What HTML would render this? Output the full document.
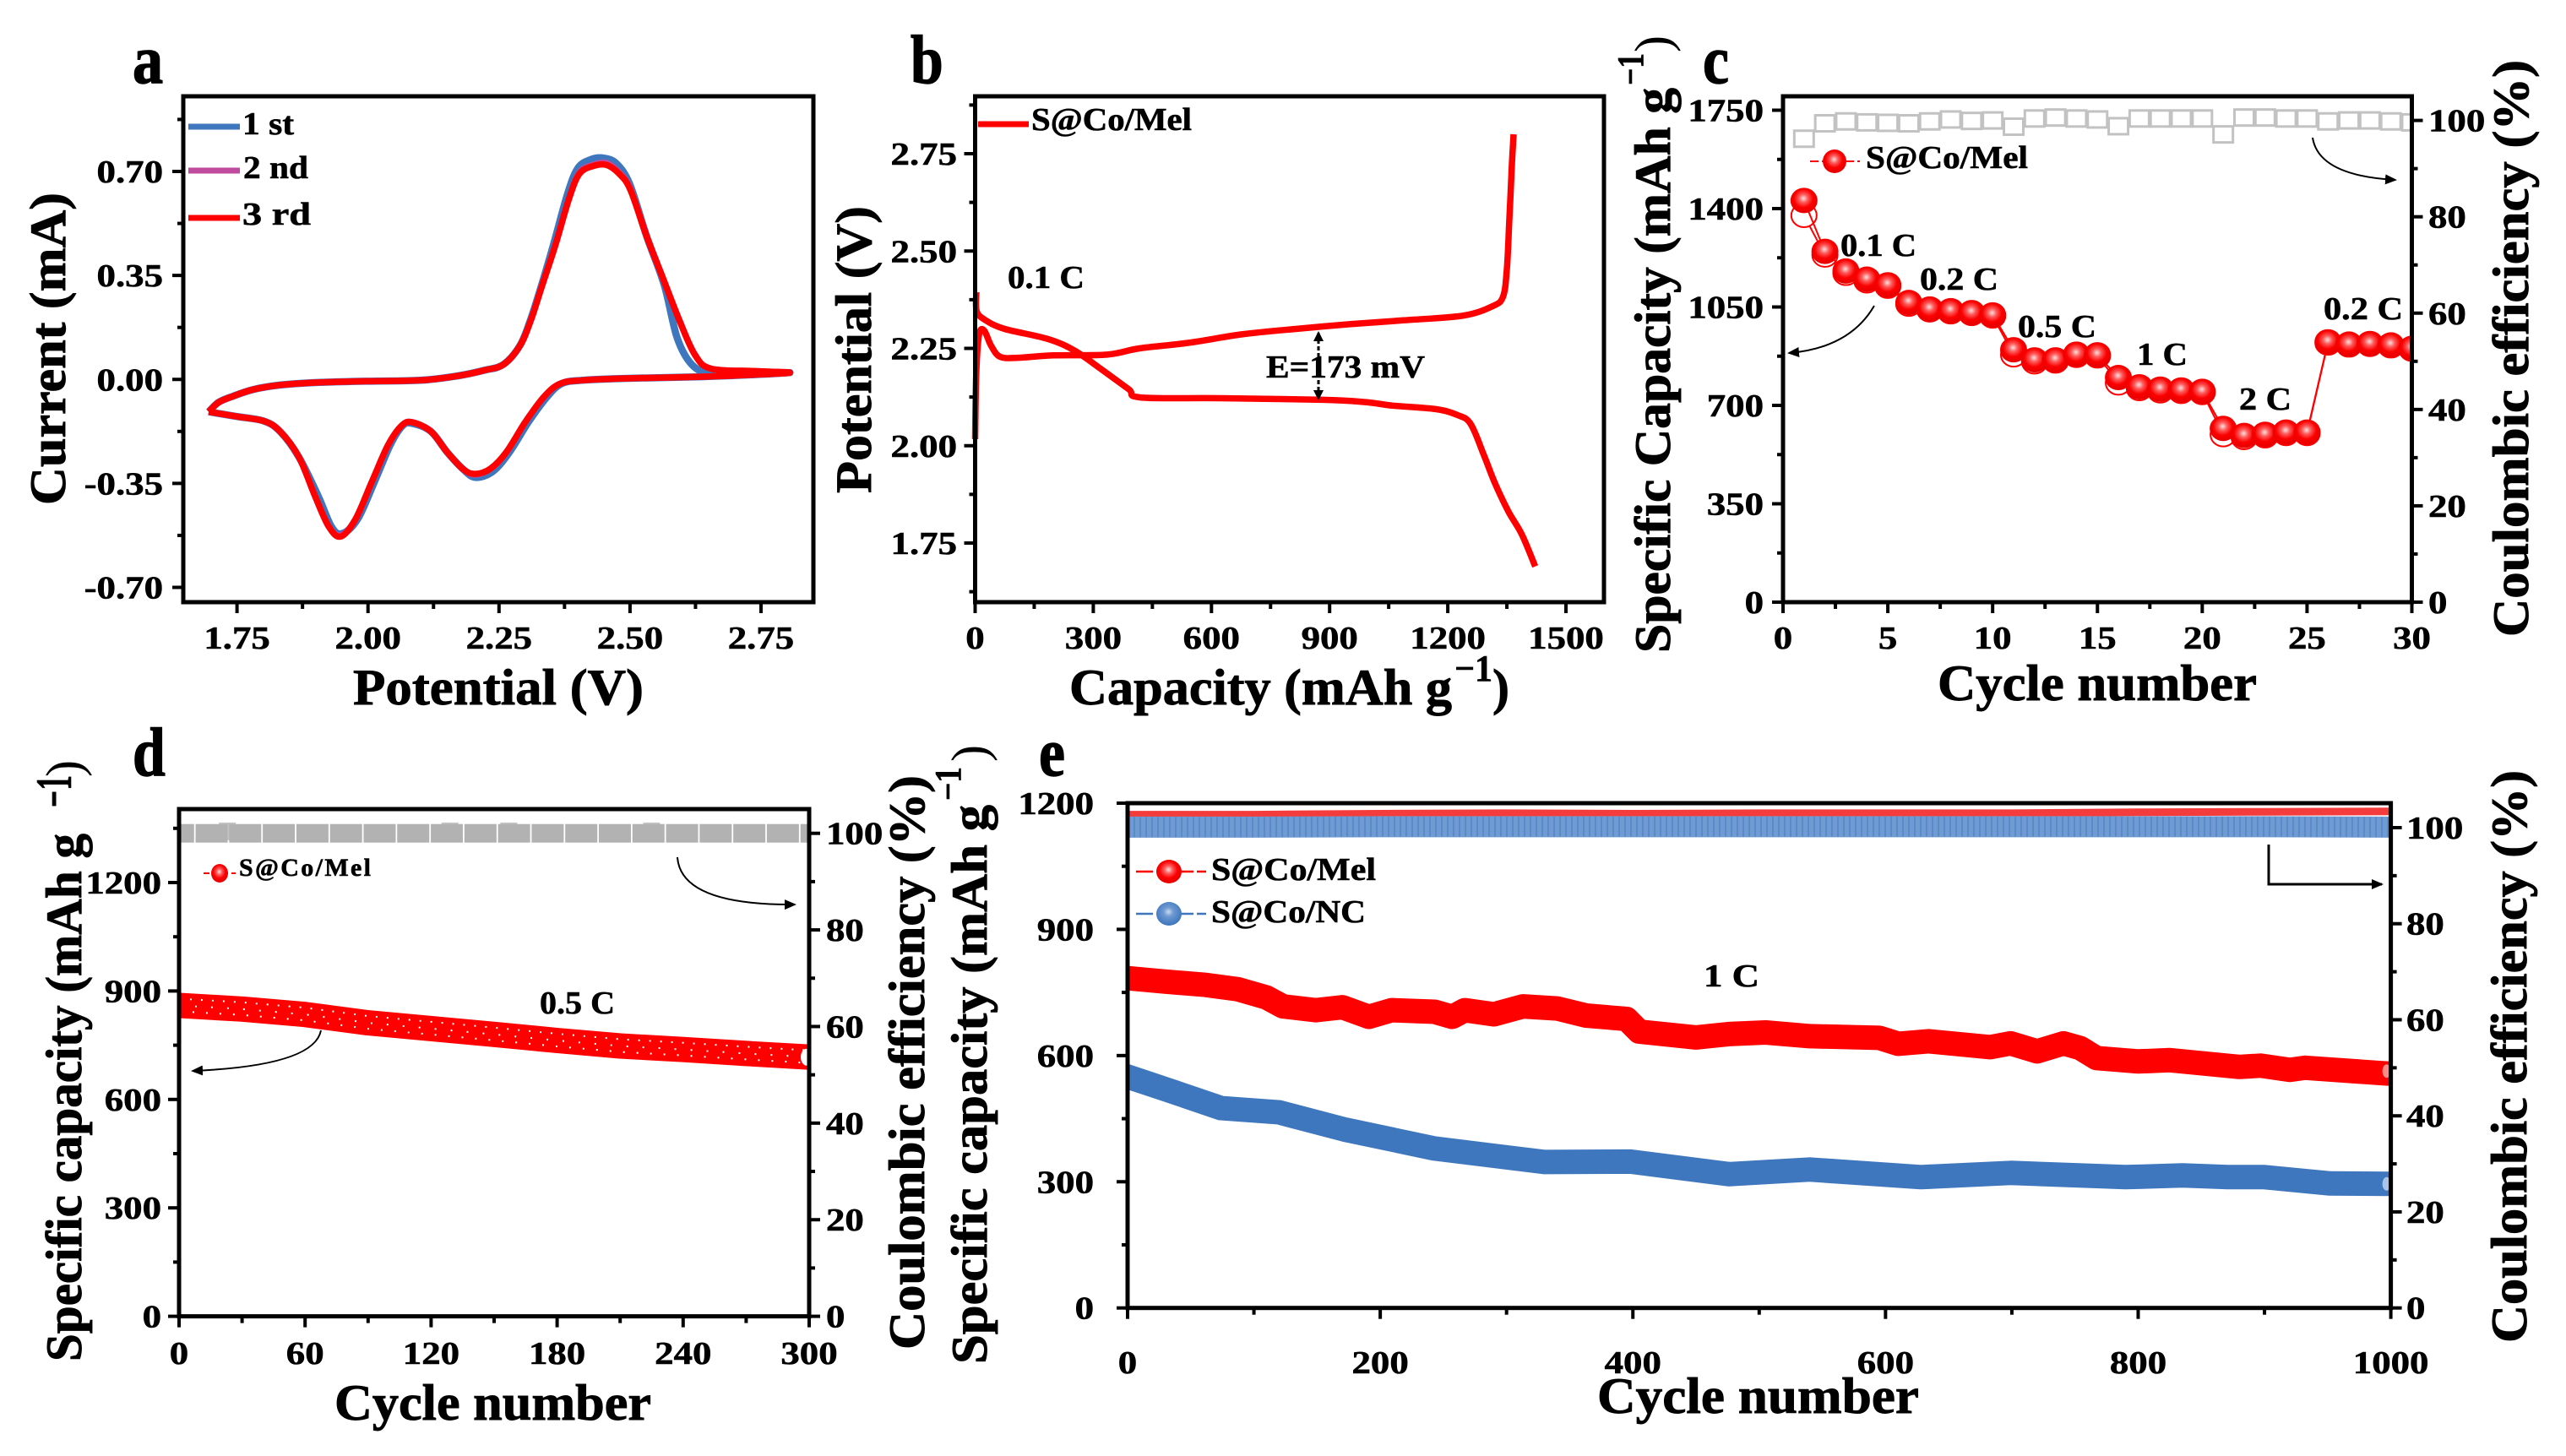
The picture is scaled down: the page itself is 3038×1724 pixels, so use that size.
<!DOCTYPE html>
<html lang="en">
<head>
<meta charset="utf-8">
<title>Battery electrochemical performance figure</title>
<style>
html,body{margin:0;padding:0;background:#fff;width:3038px;height:1724px;overflow:hidden}
svg{display:block}
text{font-family:"Liberation Serif",serif;font-weight:bold;fill:#000;stroke:#000;stroke-width:.6px}
.t{font-size:60px;stroke-width:.9px}
.n{font-size:38px}
.p{font-size:82px;stroke-width:1.4px}
</style>
</head>
<body>
<svg id="fig" xmlns="http://www.w3.org/2000/svg" width="3038" height="1724" viewBox="0 0 3038 1724">
<defs>
<radialGradient id="ball" cx="48%" cy="42%" r="55%"><stop offset="0" stop-color="#ffe0e0"/><stop offset=".3" stop-color="#ff5a5a"/><stop offset=".65" stop-color="#fb0000"/><stop offset="1" stop-color="#e80000"/></radialGradient>
<radialGradient id="ballB" cx="48%" cy="42%" r="55%"><stop offset="0" stop-color="#c8dcf2"/><stop offset=".35" stop-color="#6f9ad2"/><stop offset="1" stop-color="#3f77be"/></radialGradient>
<marker id="ahb" markerWidth="14" markerHeight="12" refX="12" refY="6" orient="auto" markerUnits="userSpaceOnUse" viewBox="0 0 14 12"><path d="M0 0L14 6L0 12z" fill="#000"/></marker>
<marker id="ahv" markerWidth="12" markerHeight="12" refX="10" refY="6" orient="auto-start-reverse" markerUnits="userSpaceOnUse" viewBox="0 0 12 12"><path d="M0 0L12 6L0 12z" fill="#000"/></marker>
<clipPath id="clipC"><rect x="2111" y="114" width="745" height="599"/></clipPath>
<clipPath id="clipD"><rect x="212" y="958" width="746" height="601"/></clipPath>
<clipPath id="clipE"><rect x="1335" y="951" width="1496" height="598"/></clipPath>
</defs>

<g id="marks"></g>
<g id="axes"></g>

<!-- panel letters -->
<text class="p" transform="translate(157,98) scale(.88,1)">a</text>
<text class="p" transform="translate(1078,98) scale(.85,1)">b</text>
<text class="p" transform="translate(2016,98) scale(.85,1)">c</text>
<text class="p" transform="translate(157,918) scale(.85,1)">d</text>
<text class="p" transform="translate(1230,918) scale(.85,1)">e</text>

<!-- panel a text -->
<text class="t" x="418" y="834" textLength="344" lengthAdjust="spacingAndGlyphs">Potential (V)</text>
<text class="t" transform="translate(77,598) rotate(-90)" textLength="370" lengthAdjust="spacingAndGlyphs">Current (mA)</text>
<g>
<line x1="223" x2="284" y1="150" y2="150" stroke="#3f77be" stroke-width="7"/>
<line x1="223" x2="284" y1="202" y2="202" stroke="#c04a9e" stroke-width="7"/>
<line x1="223" x2="284" y1="258" y2="258" stroke="#fe0000" stroke-width="7"/>
<text class="n" x="287" y="159" textLength="61" lengthAdjust="spacingAndGlyphs">1 st</text>
<text class="n" x="288" y="211" textLength="77" lengthAdjust="spacingAndGlyphs">2 nd</text>
<text class="n" x="287" y="266" textLength="81" lengthAdjust="spacingAndGlyphs">3 rd</text>
</g>

<!-- panel b text -->
<text class="t" x="1266" y="834" textLength="453" lengthAdjust="spacingAndGlyphs">Capacity (mAh g</text>
<text x="1722" y="806" font-size="44" textLength="45" lengthAdjust="spacingAndGlyphs">−1</text>
<text class="t" x="1767" y="834">)</text>
<text class="t" transform="translate(1031,584) rotate(-90)" textLength="340" lengthAdjust="spacingAndGlyphs">Potential (V)</text>
<line x1="1158" x2="1218" y1="147" y2="147" stroke="#fe0000" stroke-width="7"/>
<text class="n" x="1221" y="154" textLength="190" lengthAdjust="spacingAndGlyphs">S@Co/Mel</text>
<text class="n" x="1193" y="341" textLength="91" lengthAdjust="spacingAndGlyphs">0.1 C</text>
<line x1="1561" x2="1561" y1="394" y2="472" stroke="#000" stroke-width="3" stroke-dasharray="5 3" marker-start="url(#ahv)" marker-end="url(#ahv)"/>
<text class="n" x="1499" y="447" textLength="188" lengthAdjust="spacingAndGlyphs">E=173 mV</text>

<!-- panel c text -->
<text class="t" x="2294" y="829" textLength="378" lengthAdjust="spacingAndGlyphs">Cycle number</text>
<text class="t" transform="translate(1977,773) rotate(-90)" textLength="669" lengthAdjust="spacingAndGlyphs">Specific Capacity (mAh g</text>
<text transform="translate(1945,101) rotate(-90)" font-size="44" textLength="38" lengthAdjust="spacingAndGlyphs">−1</text>
<text class="t" transform="translate(1977,62) rotate(-90)" style="font-weight:normal;stroke-width:0">)</text>
<text class="t" transform="translate(2993,754) rotate(-90)" textLength="683" lengthAdjust="spacingAndGlyphs">Coulombic efficiency (%)</text>
<text class="n" x="2209" y="199" textLength="192" lengthAdjust="spacingAndGlyphs">S@Co/Mel</text>
<text class="n" x="2179" y="303" textLength="90" lengthAdjust="spacingAndGlyphs">0.1 C</text>
<text class="n" x="2273" y="343" textLength="93" lengthAdjust="spacingAndGlyphs">0.2 C</text>
<text class="n" x="2389" y="399" textLength="93" lengthAdjust="spacingAndGlyphs">0.5 C</text>
<text class="n" x="2530" y="432" textLength="60" lengthAdjust="spacingAndGlyphs">1 C</text>
<text class="n" x="2651" y="485" textLength="62" lengthAdjust="spacingAndGlyphs">2 C</text>
<text class="n" x="2751" y="378" textLength="94" lengthAdjust="spacingAndGlyphs">0.2 C</text>
<path d="M2219 362Q2190 412 2118 418" fill="none" stroke="#000" stroke-width="2" marker-end="url(#ahb)"/>
<path d="M2738 163Q2745 208 2836 213" fill="none" stroke="#000" stroke-width="2" marker-end="url(#ahb)"/>

<!-- panel d text -->
<text class="t" x="396" y="1681" textLength="375" lengthAdjust="spacingAndGlyphs">Cycle number</text>
<text class="t" transform="translate(96,1612) rotate(-90)" textLength="625" lengthAdjust="spacingAndGlyphs">Specific capacity (mAh g</text>
<text transform="translate(84,956) rotate(-90)" font-size="60" textLength="38" lengthAdjust="spacingAndGlyphs">−1</text>
<text class="t" transform="translate(96,920) rotate(-90)" style="font-weight:normal;stroke-width:0">)</text>
<text class="t" transform="translate(1094,1598) rotate(-90)" textLength="680" lengthAdjust="spacingAndGlyphs">Coulombic efficiency (%)</text>
<text x="283" y="1037" font-size="30" textLength="156" lengthAdjust="spacing">S@Co/Mel</text>
<text class="n" x="639" y="1200" textLength="89" lengthAdjust="spacingAndGlyphs">0.5 C</text>
<path d="M380 1220Q372 1262 228 1268" fill="none" stroke="#000" stroke-width="2" marker-end="url(#ahb)"/>
<path d="M802 1015Q806 1072 941 1071" fill="none" stroke="#000" stroke-width="2" marker-end="url(#ahb)"/>

<!-- panel e text -->
<text class="t" x="1891" y="1673" textLength="381" lengthAdjust="spacingAndGlyphs">Cycle number</text>
<text class="t" transform="translate(1168,1615) rotate(-90)" textLength="662" lengthAdjust="spacingAndGlyphs">Specific capacity (mAh g</text>
<text transform="translate(1137,948) rotate(-90)" font-size="44" textLength="40" lengthAdjust="spacingAndGlyphs">−1</text>
<text class="t" transform="translate(1168,902) rotate(-90)" style="font-weight:normal;stroke-width:0">)</text>
<text class="t" transform="translate(2991,1590) rotate(-90)" textLength="678" lengthAdjust="spacingAndGlyphs">Coulombic efficiency (%)</text>
<text class="n" x="1434" y="1042" textLength="195" lengthAdjust="spacingAndGlyphs">S@Co/Mel</text>
<text class="n" x="1434" y="1092" textLength="183" lengthAdjust="spacingAndGlyphs">S@Co/NC</text>
<text class="n" x="2017" y="1168" textLength="66" lengthAdjust="spacingAndGlyphs">1 C</text>
<path d="M2686 1000V1047H2820" fill="none" stroke="#000" stroke-width="3" marker-end="url(#ahb)"/>
</svg>

<script>
// ---- panel a: cyclic voltammetry ----
const cv1V=[1.696,1.75,1.801,1.832,1.868,1.905,1.93,1.95,1.98,2.012,2.042,2.066,2.084,2.12,2.151,2.182,2.205,2.238,2.27,2.306,2.342,2.37,2.408,2.48,2.635,2.738,2.805,2.738,2.655,2.618,2.59,2.565,2.532,2.5,2.475,2.45,2.425,2.4,2.38,2.355,2.33,2.31,2.29,2.259,2.223,2.172,2.1,1.997,1.894,1.832,1.781,1.74,1.714,1.696];
const cv1I=[-.109,-.125,-.14,-.175,-.261,-.393,-.495,-.519,-.471,-.346,-.222,-.156,-.148,-.175,-.245,-.303,-.33,-.31,-.245,-.144,-.058,-.014,-.003,.003,.009,.016,.023,.018,.02,.05,.14,.32,.48,.655,.725,.745,.74,.71,.62,.46,.31,.2,.114,.051,.031,.012,-.003,-.006,-.011,-.019,-.034,-.058,-.078,-.109];
const cv2V=[1.696,1.75,1.801,1.832,1.868,1.899,1.925,1.948,1.976,2.007,2.038,2.064,2.084,2.12,2.151,2.182,2.205,2.234,2.264,2.3,2.336,2.367,2.408,2.48,2.635,2.738,2.805,2.738,2.655,2.624,2.594,2.563,2.532,2.501,2.48,2.455,2.429,2.403,2.383,2.357,2.331,2.311,2.29,2.259,2.223,2.172,2.1,1.997,1.894,1.832,1.781,1.74,1.714,1.696];
const cv2I=[-.109,-.125,-.14,-.175,-.261,-.393,-.495,-.525,-.471,-.346,-.222,-.156,-.144,-.175,-.245,-.303,-.32,-.3,-.245,-.144,-.058,-.014,-.003,.003,.009,.016,.023,.028,.036,.083,.2,.34,.48,.64,.695,.728,.722,.695,.605,.449,.309,.2,.114,.051,.031,.012,-.003,-.006,-.011,-.019,-.034,-.058,-.078,-.109];
const cv3V=[1.696,1.75,1.801,1.832,1.868,1.899,1.925,1.948,1.976,2.007,2.038,2.064,2.084,2.12,2.151,2.182,2.205,2.234,2.264,2.3,2.336,2.367,2.408,2.48,2.635,2.738,2.805,2.738,2.655,2.624,2.594,2.563,2.532,2.501,2.48,2.455,2.429,2.403,2.383,2.357,2.331,2.311,2.29,2.259,2.223,2.172,2.1,1.997,1.894,1.832,1.781,1.74,1.714,1.696];
const cv3I=[-.109,-.125,-.14,-.175,-.261,-.393,-.495,-.529,-.471,-.346,-.222,-.156,-.144,-.175,-.245,-.303,-.318,-.3,-.245,-.144,-.058,-.014,-.003,.003,.009,.016,.023,.028,.036,.083,.2,.34,.48,.637,.691,.722,.718,.691,.605,.449,.309,.2,.114,.051,.031,.012,-.003,-.006,-.011,-.019,-.034,-.058,-.078,-.109];
const aXTicks=['1.75','2.00','2.25','2.50','2.75'];
const aYTicks=['-0.70','-0.35','0.00','0.35','0.70'];
// ---- panel b: charge / discharge profile ----
const chargeCap=[0,3,10,23,41,64,109,198,335,417,540,677,814,950,1087,1238,1313,1340,1350,1356,1363,1367];
const chargeV=[2.017,2.19,2.286,2.296,2.256,2.228,2.226,2.232,2.234,2.25,2.264,2.286,2.3,2.312,2.322,2.334,2.358,2.382,2.453,2.573,2.728,2.8];
const dischargeCap=[3,4,27,75,185,253,321,390,420,622,882,991,1060,1169,1224,1258,1292,1320,1354,1388,1422];
const dischargeV=[2.394,2.345,2.322,2.3,2.274,2.244,2.196,2.145,2.124,2.122,2.118,2.112,2.103,2.094,2.079,2.056,1.975,1.903,1.831,1.772,1.69];
const bXTicks=['0','300','600','900','1200','1500'];
const bYTicks=['1.75','2.00','2.25','2.50','2.75'];
// ---- panel c: rate capability ----
const rateCycles=[1,2,3,4,5,6,7,8,9,10,11,12,13,14,15,16,17,18,19,20,21,22,23,24,25,26,27,28,29,30];
const rateDischarge=[1429,1248,1178,1149,1129,1066,1043,1037,1030,1022,898,862,862,882,880,799,766,758,755,750,618,593,597,605,605,926,918,920,915,903];
const rateCharge=[1376,1235,1170,1143,1124,1060,1040,1033,1027,1018,880,855,858,878,876,780,760,752,750,746,596,586,592,600,600,922,915,917,912,900];
const rateCE=[96.2,99.4,99.8,99.6,99.5,99.4,99.8,100.2,99.9,100,98.7,100.4,100.6,100.4,100.2,98.8,100.4,100.4,100.4,100.4,97.1,100.6,100.6,100.4,100.4,99.8,100,100,99.8,99.6];
const cXTicks=['0','5','10','15','20','25','30'];
const cYTicks=['0','350','700','1050','1400','1750'];
const cRTicks=['0','20','40','60','80','100'];
// ---- panel d: 0.5 C cycling ----
const dCycles=[0,30,60,90,120,150,180,210,240,270,300];
const dCapacity=[860,850,835,812,796,780,763,748,738,727,717];
const dCeCycles=[-0.5,15.5,31.5,47.5,63.5,79.5,95.5,111.5,127.5,143.5,159.5,175.5,191.5,207.5,223.5,239.5,255.5,271.5,287.5,303.5];
const dCe=[100,100,100,100,100,100,100,100,100,100,100,100,100,100,100,100,100,100,100,100];
const dCeBumpCycles=[23,129,157,225];
const dCeBumps=[100.4,100.4,100.4,100.4];
const dXTicks=['0','60','120','180','240','300'];
const dYTicks=['0','300','600','900','1200'];
const dRTicks=['0','20','40','60','80','100'];
// ---- panel e: 1 C long cycling ----
const melCycles=[0,29,62,87,110,123,149,170,191,209,243,257,267,290,313,340,363,395,405,450,476,505,540,595,610,634,683,699,720,741,754,767,800,825,880,897,920,932,994,1000];
const melCapacity=[784,776,768,758,738,717,708,715,692,708,704,692,708,698,717,712,695,687,657,643,651,655,646,642,628,634,620,629,610,629,618,594,586,589,573,576,566,571,558,557];
const ncCycles=[0,29,74,120,172,243,330,398,476,505,540,628,699,790,835,871,900,952,1000];
const ncCapacity=[550,521,475,465,424,379,347,348,318,323,329,311,321,311,315,311,311,296,295];
const eCeCycles=[0,100,200,300,400,500,600,700,800,900,1000];
const melCe=[102.7,102.7,102.9,103,102.9,103,103,103,103.2,103.3,103.4];
const ncCe=[100.1,100.1,100.2,100.2,100.2,100.2,100.2,100.2,100.2,100.2,100.1];
const eXTicks=['0','200','400','600','800','1000'];
const eYTicks=['0','300','600','900','1200'];
const eRTicks=['0','20','40','60','80','100'];

// ---- scales ----
function scale(d0,p0,d1,p1){return v=>p0+(v-d0)*(p1-p0)/(d1-d0);}
const ax=scale(1.75,280.6,2.75,901), ay=scale(-.7,695.5,.7,203);
const bx=scale(0,1154.5,1500,1854), by=scale(1.75,643,2.75,182);
const cx=scale(0,2111,30,2855.5), cy=scale(0,713,1750,130.5), cr=scale(0,713,100,142.6);
const dx=scale(0,212,300,958), dy=scale(0,1558.6,1200,1045), dr=scale(0,1558.6,100,986.7);
const ex=scale(0,1335,1000,2830.6), ey=scale(0,1548.7,1200,951), er=scale(0,1548.7,100,980);

const NS='http://www.w3.org/2000/svg';
const marks=document.getElementById('marks'), axes=document.getElementById('axes');
function make(tag,attrs,parent){const n=document.createElementNS(NS,tag);for(const k in attrs)n.setAttribute(k,attrs[k]);parent.appendChild(n);return n;}

function drawLine(name,xs,ys,fx,fy,color,width,clip,extra){
  const pts=xs.map((x,i)=>fx(x).toFixed(1)+','+fy(ys[i]).toFixed(1)).join(' ');
  const attrs={points:pts,fill:'none',stroke:color,'stroke-width':width,'stroke-linejoin':'round'};
  if(clip)attrs['clip-path']='url(#'+clip+')';
  if(extra)for(const k in extra)attrs[k]=extra[k];
  const el=make('polyline',attrs,marks);
  
  
  return el;
}
function drawCurve(name,xs,ys,fx,fy,color,width){
  const P=xs.map((x,i)=>[fx(x),fy(ys[i])]);
  let d='M'+P[0][0].toFixed(1)+' '+P[0][1].toFixed(1);
  for(let i=0;i+1<P.length;i++){
    const a=P[Math.max(i-1,0)],b=P[i],c=P[i+1],e=P[Math.min(i+2,P.length-1)];
    const c1=[b[0]+(c[0]-a[0])/6,b[1]+(c[1]-a[1])/6],c2=[c[0]-(e[0]-b[0])/6,c[1]-(e[1]-b[1])/6];
    d+='C'+c1[0].toFixed(1)+' '+c1[1].toFixed(1)+' '+c2[0].toFixed(1)+' '+c2[1].toFixed(1)+' '+c[0].toFixed(1)+' '+c[1].toFixed(1);
  }
  const el=make('path',{d:d,fill:'none',stroke:color,'stroke-width':width,'stroke-linejoin':'round'},marks);
  
  
  return el;
}
function drawBall(name,px,py,rx,ry,fill,clip){
  const attrs={cx:px,cy:py,rx:rx,ry:ry,fill:fill};
  if(clip)attrs['clip-path']='url(#'+clip+')';
  const el=make('ellipse',attrs,marks);
  
  
  return el;
}
function tickLine(name,x1,y1,x2,y2){
  const el=make('line',{x1:x1,y1:y1,x2:x2,y2:y2,stroke:'#000','stroke-width':4},axes);
  
  
}
function tickText(name,str,x,y,anchor){
  const el=make('text',{class:'n',transform:'translate('+x+','+y+') scale(1.18,1)','text-anchor':anchor},axes);
  el.textContent=str;
  
  
}
function minors(labels){
  const v=labels.map(Number),out=[];
  for(let i=0;i<v.length-1;i++)out.push((v[i]+v[i+1])/2);
  const st=v[1]-v[0];
  out.push(v[0]-st/2,v[v.length-1]+st/2);
  return out;
}
function drawAxes(p,F,xLab,fx,yLab,fy,rLab,fr,xBase){
  const frame=make('rect',{x:F.l,y:F.t,width:F.r-F.l,height:F.b-F.t,fill:'none',stroke:'#000','stroke-width':5},axes);
  
  
  xLab.forEach(s=>{const x=fx(Number(s));tickLine(p+'-x-tick',x,F.b,x,F.b+13);tickText(p+'-x-tick-label',s,x,xBase,'middle');});
  minors(xLab).forEach(v=>{const x=fx(v);if(x>=F.l-1&&x<=F.r+1)tickLine(p+'-x-minor-tick',x,F.b,x,F.b+8);});
  yLab.forEach(s=>{const y=fy(Number(s));tickLine(p+'-y-tick',F.l-13,y,F.l,y);tickText(p+'-y-tick-label',s,F.yl,y+13,'end');});
  minors(yLab).forEach(v=>{const y=fy(v);if(y>=F.t&&y<=F.b)tickLine(p+'-y-minor-tick',F.l-7,y,F.l,y);});
  if(rLab){
    rLab.forEach(s=>{const y=fr(Number(s));tickLine(p+'-right-tick',F.r,y,F.r+13,y);tickText(p+'-right-tick-label',s,F.rl,y+13,'start');});
    minors(rLab).forEach(v=>{const y=fr(v);if(y>=F.t&&y<=F.b)tickLine(p+'-right-minor-tick',F.r,y,F.r+7,y);});
  }
}

// panel a
drawAxes('a',{l:217,r:963,t:114,b:713,yl:193},aXTicks,ax,aYTicks,ay,null,null,768);
drawCurve('cv-cycle-1',cv1V,cv1I,ax,ay,'#3f77be',8.5);
drawCurve('cv-cycle-2',cv2V,cv2I,ax,ay,'#c04a9e',7.5);
drawCurve('cv-cycle-3',cv3V,cv3I,ax,ay,'#fe0000',7.5);

// panel b
drawAxes('b',{l:1154.5,r:1899,t:114,b:713,yl:1133},bXTicks,bx,bYTicks,by,null,null,768);
drawCurve('charge-curve',chargeCap,chargeV,bx,by,'#fe0000',7.5);
drawCurve('discharge-curve',dischargeCap,dischargeV,bx,by,'#fe0000',7.5);

// panel c
drawAxes('c',{l:2111,r:2855.5,t:114,b:713,yl:2088,rl:2875},cXTicks,cx,cYTicks,cy,cRTicks,cr,768);
rateCycles.forEach((c,i)=>{
  const el=make('rect',{x:cx(c)-11.5,y:cr(rateCE[i])-9.5,width:23,height:19,fill:'none',stroke:'#c2c2c2','stroke-width':3,'clip-path':'url(#clipC)'},marks);
  
  
});
drawLine('rate-charge-line',rateCycles,rateCharge,cx,cy,'#fe0000',2,'clipC');
rateCycles.forEach((c,i)=>{
  const el=make('ellipse',{cx:cx(c),cy:cy(rateCharge[i]),rx:15,ry:14,fill:'#fff',stroke:'#fe0000','stroke-width':2,'clip-path':'url(#clipC)'},marks);
  
  
});
drawLine('rate-discharge-line',rateCycles,rateDischarge,cx,cy,'#fe0000',2,'clipC');
rateCycles.forEach((c,i)=>{drawBall('rate-discharge-point',cx(c),cy(rateDischarge[i]),16,15,'url(#ball)','clipC');});
const cLeg=make('line',{x1:2143,x2:2202,y1:191,y2:191,stroke:'#fe0000','stroke-width':2,'stroke-dasharray':'10 4'},marks);


drawBall('c-legend-marker',2172,191,14,14,'url(#ball)');

// panel d
drawAxes('d',{l:212,r:958,t:958,b:1558.6,yl:191,rl:978},dXTicks,dx,dYTicks,dy,dRTicks,dr,1615);
dCeBumpCycles.forEach((c,i)=>{
  const el=make('rect',{x:dx(c)-10,y:dr(dCeBumps[i])-10.5,width:20,height:21,fill:'#c4c4c4'},marks);
  
  
});
dCeCycles.forEach((c,i)=>{
  const el=make('rect',{x:dx(c)-19,y:dr(dCe[i])-11,width:38,height:22,fill:'#b2b2b2','clip-path':'url(#clipD)'},marks);
  
  
});
drawLine('d-capacity-band',dCycles,dCapacity,dx,dy,'#fe0000',30,'clipD',{'stroke-linecap':'square'});
drawLine('d-capacity-highlights-a',dCycles,dCapacity,dx,v=>dy(v)-8,'#fff',2,'clipD',{'stroke-dasharray':'2 11'});
drawLine('d-capacity-highlights-b',dCycles,dCapacity,dx,dy,'#fff',2,'clipD',{'stroke-dasharray':'2 17'});
drawLine('d-capacity-highlights-c',dCycles,dCapacity,dx,v=>dy(v)+7,'#fff',2,'clipD',{'stroke-dasharray':'2 14'});
const dLeg=make('line',{x1:241,x2:279,y1:1034,y2:1034,stroke:'#fe0000','stroke-width':2,'stroke-dasharray':'7 4'},marks);


drawBall('d-legend-marker',260,1034,10,11,'url(#ball)');
drawBall('d-capacity-last-marker',dx(dCycles[dCycles.length-1])-3,dy(dCapacity[dCapacity.length-1]),7,10,'#fff','clipD');

// panel e
drawAxes('e',{l:1335,r:2830.6,t:951,b:1548.7,yl:1295,rl:2849},eXTicks,ex,eYTicks,ey,eRTicks,er,1626);
drawLine('e-ce-mel-band',eCeCycles,melCe,ex,er,'#f43c3c',9,'clipE');
drawLine('e-ce-nc-band',eCeCycles,ncCe,ex,er,'#6f9ad2',25,'clipE');
drawLine('e-ce-nc-stripes',eCeCycles,ncCe,ex,er,'#3f77be',24,'clipE',{'stroke-dasharray':'2 5','stroke-opacity':'.45'});
drawLine('e-capacity-mel-band',melCycles,melCapacity,ex,ey,'#fe0000',29,'clipE',{'stroke-linecap':'square'});
drawLine('e-capacity-nc-band',ncCycles,ncCapacity,ex,ey,'#3f77be',29,'clipE',{'stroke-linecap':'square'});
drawBall('e-capacity-mel-last-marker',ex(melCycles[melCycles.length-1])-5,ey(melCapacity[melCapacity.length-1])-3,5,8,'#ff8a8a','clipE');
drawBall('e-capacity-nc-last-marker',ex(ncCycles[ncCycles.length-1])-5,ey(ncCapacity[ncCapacity.length-1]),5,8,'#a9c4e6','clipE');
const eLegM=make('line',{x1:1345,x2:1428,y1:1032,y2:1032,stroke:'#fe0000','stroke-width':2.5,'stroke-dasharray':'20 4'},marks);


const eLegN=make('line',{x1:1345,x2:1428,y1:1082,y2:1082,stroke:'#3f77be','stroke-width':2.5,'stroke-dasharray':'20 4'},marks);


drawBall('e-legend-marker-mel',1384,1032,15,14,'url(#ball)');
drawBall('e-legend-marker-nc',1384,1082,15,14,'url(#ballB)');
</script>
</body>
</html>
